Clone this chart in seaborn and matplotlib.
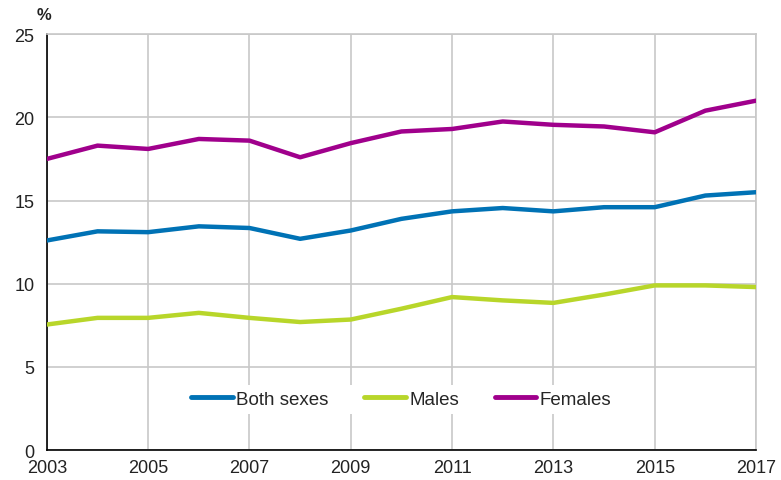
import matplotlib
matplotlib.use("Agg")
import matplotlib.pyplot as plt
import seaborn as sns
import pandas as pd

years = list(range(2003, 2018))
both_sexes = [12.6, 13.15, 13.1, 13.45, 13.35, 12.7, 13.2, 13.9, 14.35, 14.55, 14.35, 14.6, 14.6, 15.3, 15.5]
males = [7.55, 7.95, 7.95, 8.25, 7.95, 7.7, 7.85, 8.5, 9.2, 9.0, 8.85, 9.35, 9.9, 9.9, 9.8]
females = [17.5, 18.3, 18.1, 18.7, 18.6, 17.6, 18.45, 19.15, 19.3, 19.75, 19.55, 19.45, 19.1, 20.4, 21.0]
series_names = ["Both sexes", "Males", "Females"]
colors = ["#0072B5", "#B8D62A", "#A0008C"]

df = pd.DataFrame({
    "year": years * 3,
    "value": both_sexes + males + females,
    "series": [n for n in series_names for _ in years],
})

sns.set_style("white")
plt.rcParams["font.family"] = ["Liberation Sans", "DejaVu Sans"]

fig = plt.figure(figsize=(7.81, 4.81), dpi=100)
ax = fig.add_axes([0.060, 0.062, 0.908, 0.865])

sns.lineplot(data=df, x="year", y="value", hue="series", hue_order=series_names,
             palette=colors, linewidth=3.2, ax=ax, zorder=3)

ax.set_xlim(2003, 2017)
ax.set_ylim(0, 25)
ax.set_xticks(range(2003, 2018, 2))
ax.set_yticks(range(0, 26, 5))
ax.grid(True, color="#c8c8c8", linewidth=1.2)
ax.set_axisbelow(True)
ax.set_xlabel("")
ax.set_ylabel("")

for side in ["top", "right"]:
    ax.spines[side].set_color("#c8c8c8")
    ax.spines[side].set_linewidth(1.2)
for side in ["left", "bottom"]:
    ax.spines[side].set_color("black")
    ax.spines[side].set_linewidth(1.2)

ax.tick_params(axis="x", length=4, width=1, color="black", labelsize=13, pad=2)
ax.tick_params(axis="y", length=0, labelsize=13, pad=9)
for lbl in ax.get_yticklabels() + ax.get_xticklabels():
    lbl.set_color("#222222")

ax.text(-0.014, 1.03, "%", transform=ax.transAxes, fontsize=12, fontweight="bold",
        ha="left", va="bottom", color="#222222")

leg = ax.legend(loc="center", bbox_to_anchor=(0.50, 0.122), ncol=3, frameon=True,
                fontsize=13.5, handlelength=2.2, handletextpad=0.2, columnspacing=1.9,
                borderpad=0.3)
leg.get_frame().set_facecolor("white")
leg.get_frame().set_edgecolor("none")
leg.get_frame().set_alpha(1)
for line in leg.get_lines():
    line.set_linewidth(3.5)

fig.savefig("out.png", dpi=100)
